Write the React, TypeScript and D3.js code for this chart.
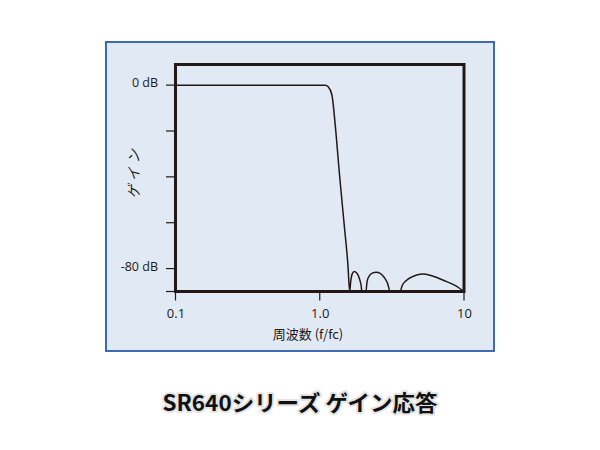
import React from "react";
import * as d3 from "d3";

const freq = [0.1, 1.0, 1.092, 1.145, 1.214, 1.28, 1.371, 1.478, 1.568, 1.613,
  1.638, 1.679, 1.733, 1.804, 1.877, 1.938, 1.959,
  2.088, 2.132, 2.218, 2.327, 2.46, 2.623, 2.795, 2.955, 3.075,
  3.607, 3.724, 3.968, 4.298, 4.654, 5.204, 5.817, 6.608, 7.507, 8.666, 10];
const gainDb = [0, 0, 0, -0.7, -4.2, -17.3, -39.1, -61, -78.5, -90,
  -85.8, -82.3, -81.3, -81.9, -84.1, -87.6, -90,
  -90, -85.4, -83.0, -81.9, -81.6, -82.1, -83.8, -86.5, -90,
  -90, -87.5, -85.3, -83.8, -82.9, -82.4, -82.9, -84.1, -85.6, -87.3, -90];

const yTicks = [0, -20, -40, -60, -80, -90];
const yTickLabels: Record<number, string> = { 0: "0 dB", [-80]: "-80 dB" };
const xTicks = [0.1, 1, 10];
const xTickLabels = ["0.1", "1.0", "10"];
const xTitle = "周波数 (f/fc)";
const yTitle = "ゲイン";
const chartTitle = "SR640シリーズ ゲイン応答";

const ink = "#231815";
const latin = "'Open Sans', 'Noto Sans CJK JP', sans-serif";
const cjk = "'Noto Sans CJK JP', sans-serif";

export default function App() {
  const x = d3.scaleLog().domain([0.1, 10]).range([175.5, 464]);
  const y = d3.scaleLinear().domain([-90, 9]).range([291.5, 64.5]);
  const pts = freq.map((f, i) => [f, gainDb[i]] as [number, number]);
  const line = d3.line<[number, number]>()
    .x(d => x(d[0]))
    .y(d => y(d[1]))
    .curve(d3.curveMonotoneX);
  const x0 = x(0.1), x1 = x(10), yTop = y(9), yBot = y(-90);

  return (
    <svg width={600} height={450} style={{ position: "absolute", left: 0, top: 0 }}>
      <rect x={0} y={0} width={600} height={450} fill="#ffffff" />
      <rect x={106} y={42} width={388} height={309} fill="#e1e9f5" stroke="#2d5aa8" strokeWidth={1.8} />
      {yTicks.map(t => (
        <line key={t} x1={x0 - 9.5} x2={x0} y1={y(t)} y2={y(t)} stroke={ink} strokeWidth={1.2} />
      ))}
      {xTicks.map(t => (
        <line key={t} x1={x(t)} x2={x(t)} y1={yBot} y2={yBot + 9} stroke={ink} strokeWidth={1.2} />
      ))}
      <path d={line(pts) || ""} fill="none" stroke={ink} strokeWidth={1.5} />
      <rect x={x0} y={yTop} width={x1 - x0} height={yBot - yTop} fill="none" stroke={ink} strokeWidth={3} />
      {yTicks.filter(t => yTickLabels[t]).map(t => (
        <text key={t} x={158} y={y(t) + 2} textAnchor="end" fontFamily={latin} fontSize={12.5} fill={ink}>
          {yTickLabels[t]}
        </text>
      ))}
      {xTicks.map((t, i) => (
        <text key={t} x={x(t) + 0.5} y={317.5} textAnchor="middle" fontFamily={latin} fontSize={13} fill={ink}>
          {xTickLabels[i]}
        </text>
      ))}
      <text x={308} y={339} textAnchor="middle" fontFamily={cjk} fontSize={13} fill={ink}>{xTitle}</text>
      <text transform="translate(139,172) rotate(-90)" textAnchor="middle" fontFamily={cjk} fontSize={14}
        fontStyle="italic" letterSpacing={4} fill={ink}>{yTitle}</text>
      <text x={300} y={411} textAnchor="middle" fontFamily={cjk} fontWeight={700} fontSize={22}
        textLength={275} lengthAdjust="spacingAndGlyphs"
        stroke="#e4e4e4" strokeWidth={4} strokeLinejoin="round" paintOrder="stroke" fill="#111111">
        {chartTitle}
      </text>
    </svg>
  );
}
